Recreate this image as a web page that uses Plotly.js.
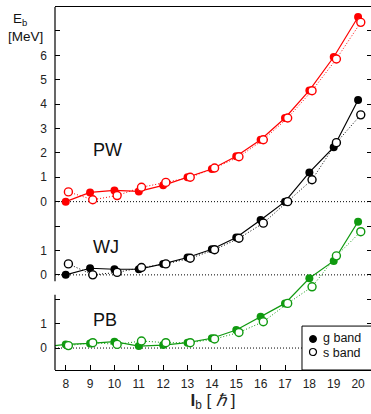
<!DOCTYPE html>
<html>
<head>
<meta charset="utf-8">
<script src="https://cdn.plot.ly/plotly-3.0.1.min.js"></script>
<style>html,body{margin:0;padding:0;background:#fff;}#plot{width:371px;height:414px;}</style>
</head>
<body>
<div id="plot"></div>
<script>
// Spin values I_b (hbar)
const spins = [8, 9, 10, 11, 12, 13, 14, 15, 16, 17, 18, 19, 20];
const spinsPB = [7, 8, 9, 10, 11, 12, 13, 14, 15, 16, 17, 18, 19, 20];

// E_b (MeV)
const pwG = [0.00, 0.38, 0.46, 0.42, 0.67, 1.00, 1.34, 1.86, 2.54, 3.43, 4.56, 5.93, 7.57];
const pwS = [0.40, 0.08, 0.25, 0.59, 0.79, 1.00, 1.38, 1.84, 2.54, 3.43, 4.55, 5.85, 7.35];
const wjG = [0.00, 0.27, 0.23, 0.23, 0.45, 0.71, 1.05, 1.53, 2.25, 3.00, 4.20, 5.23, 7.17];
const wjS = [0.45, 0.00, 0.10, 0.30, 0.45, 0.68, 1.03, 1.50, 2.12, 3.00, 3.90, 5.42, 6.56];
const pbG = [0.03, 0.15, 0.19, 0.26, 0.08, 0.12, 0.22, 0.40, 0.74, 1.28, 1.83, 2.86, 3.57, 5.18];
const pbS = [0.10, 0.22, 0.15, 0.29, 0.22, 0.22, 0.37, 0.64, 1.08, 1.83, 2.51, 3.78, 4.77];

const panelNames = ['PW', 'WJ', 'PB'];
const labeledTickVals = [0, 1, 3, 4, 6, 7, 8, 9, 10, 11, 12];
const labeledTickText = ['0', '1', '0', '1', '0', '1', '2', '3', '4', '5', '6'];
const bareTickVals = [2, 5, 13];
const xTicks = [8, 9, 10, 11, 12, 13, 14, 15, 16, 17, 18, 19, 20];

// layout constants (positions/styles)
const offsets = {PW: 6, WJ: 3, PB: 0};
const colors = {PW: '#ff0000', WJ: '#000000', PB: '#109a10'};
const sShift = 0.11;
const FONT = 'Liberation Sans, Arial, sans-serif';

function gTrace(xs, ys, name) {
  return {
    x: xs, y: ys.map(v => v + offsets[name]), type: 'scatter', mode: 'lines+markers',
    line: {color: colors[name], width: 1.2},
    marker: {symbol: 'circle', size: 8, color: colors[name]},
    showlegend: false, hoverinfo: 'skip'
  };
}
function sTrace(xs, ys, name) {
  return {
    x: xs.map(v => v + sShift), y: ys.map(v => v + offsets[name]), type: 'scatter', mode: 'lines+markers',
    line: {color: colors[name], width: 1, dash: '1px,2px'},
    marker: {symbol: 'circle', size: 8, color: '#ffffff', line: {color: colors[name], width: 1.4}},
    showlegend: false, hoverinfo: 'skip'
  };
}

const data = [
  gTrace(spins, pwG, 'PW'), sTrace(spins, pwS, 'PW'),
  gTrace(spins, wjG, 'WJ'), sTrace(spins, wjS, 'WJ'),
  gTrace(spinsPB, pbG, 'PB'), sTrace(spins, pbS, 'PB')
];
// invisible anchors so the extra tick-only axes render
data.push({x: [8], y: [0], yaxis: 'y2', type: 'scatter', mode: 'markers', marker: {opacity: 0}, showlegend: false, hoverinfo: 'skip'});
data.push({x: [8], y: [0], yaxis: 'y3', type: 'scatter', mode: 'markers', marker: {opacity: 0}, showlegend: false, hoverinfo: 'skip'});

const yRange = [-0.9, 13.98];
const allTicks = labeledTickVals.concat(bareTickVals).sort((a, b) => a - b);

const shapes = [];
[0, 3, 6].forEach(z => shapes.push({type: 'line', xref: 'paper', x0: 0, x1: 1, yref: 'y', y0: z, y1: z,
  line: {color: '#000', width: 1, dash: '1px,2px'}, layer: 'below'}));
shapes.push({type: 'line', xref: 'paper', x0: 0, x1: 0, yref: 'y', y0: yRange[0], y1: 2.18, line: {color: '#000', width: 1.2}});
shapes.push({type: 'line', xref: 'paper', x0: 0, x1: 0, yref: 'y', y0: 2.74, y1: yRange[1], line: {color: '#000', width: 1.2}});
shapes.push({type: 'rect', xref: 'paper', yref: 'paper', x0: 0.7816, x1: 1.05, y0: 0, y1: 0.121,
  line: {color: '#000', width: 1}, fillcolor: '#fff', layer: 'above'});
shapes.push({type: 'circle', xref: 'paper', yref: 'paper', xsizemode: 'pixel', ysizemode: 'pixel',
  xanchor: 0.8165, yanchor: 0.0854, x0: -3.5, x1: 3.5, y0: -3.5, y1: 3.5, fillcolor: '#000', line: {color: '#000', width: 1}});
shapes.push({type: 'circle', xref: 'paper', yref: 'paper', xsizemode: 'pixel', ysizemode: 'pixel',
  xanchor: 0.8165, yanchor: 0.0496, x0: -3.5, x1: 3.5, y0: -3.5, y1: 3.5, fillcolor: '#fff', line: {color: '#000', width: 1.2}});

const annotations = [
  {text: panelNames[0], x: 9.03, y: 8.1},
  {text: panelNames[1], x: 9.03, y: 4.16},
  {text: panelNames[2], x: 9.03, y: 1.15}
].map(a => Object.assign(a, {xref: 'x', yref: 'y', xanchor: 'left', yanchor: 'middle', showarrow: false,
  font: {family: FONT, size: 18, color: '#111'}}));
const small = (text, x, y, size) => ({text, xref: 'paper', yref: 'paper', x, y, xanchor: 'left', yanchor: 'middle',
  showarrow: false, borderpad: 0, font: {family: FONT, size, color: '#111'}});
annotations.push(small('g band', 0.845, 0.0870, 12.5));
annotations.push(small('s band', 0.845, 0.0480, 12.5));
annotations.push(small('E<sub>b</sub>', -0.136, 0.966, 13.5));
annotations.push(small('[MeV]', -0.152, 0.918, 13.5));

const layout = {
  width: 371, height: 414,
  margin: {l: 55, r: 0, t: 7, b: 44},
  paper_bgcolor: '#fff', plot_bgcolor: '#fff',
  font: {family: FONT, size: 12, color: '#222'},
  showlegend: false,
  xaxis: {
    range: [7.56, 20.53], tickvals: xTicks, ticktext: xTicks.map(String),
    ticks: 'inside', ticklen: 5, tickwidth: 1, tickcolor: '#000',
    showline: true, mirror: true, linecolor: '#000', linewidth: 1.2,
    showgrid: false, zeroline: false, ticklabelstandoff: 2,
    tickfont: {family: FONT, size: 12, color: '#222'},
    title: {text: '<b>I</b><sub>b</sub> [ <i>ℏ</i> ]', font: {family: FONT, size: 17, color: '#222'}, standoff: 3}
  },
  yaxis: {
    range: yRange, tickvals: labeledTickVals, ticktext: labeledTickText,
    ticks: 'inside', ticklen: 5, tickwidth: 1, tickcolor: '#000',
    showline: false, showgrid: false, zeroline: false, ticklabelstandoff: 7,
    tickfont: {family: FONT, size: 12, color: '#222'}
  },
  yaxis3: {
    range: yRange, overlaying: 'y', side: 'left', tickvals: bareTickVals,
    ticks: 'inside', ticklen: 5, tickwidth: 1, tickcolor: '#000',
    showticklabels: false, showline: false, showgrid: false, zeroline: false
  },
  yaxis2: {
    range: yRange, overlaying: 'y', side: 'right', tickvals: allTicks,
    ticks: 'inside', ticklen: 4, tickwidth: 1, tickcolor: '#000',
    showticklabels: false, showline: false, showgrid: false, zeroline: false
  },
  shapes: shapes,
  annotations: annotations
};

Plotly.newPlot('plot', data, layout, {staticPlot: true, displayModeBar: false});
</script>
</body>
</html>
